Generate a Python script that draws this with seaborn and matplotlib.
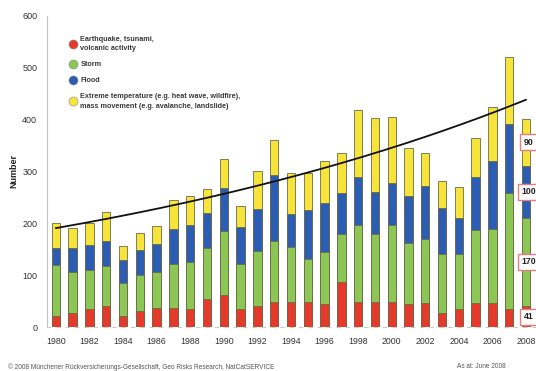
import numpy as np
import pandas as pd
import matplotlib
matplotlib.use("Agg")
import matplotlib.pyplot as plt
from matplotlib.lines import Line2D
import seaborn as sns

# Number of natural catastrophes per year, by type
years = list(range(1980, 2009))
quake = [22, 28, 36, 41, 22, 31, 38, 37, 35, 54, 62, 35, 41, 48, 48, 48, 45, 88, 48, 48,
         48, 44, 46, 28, 35, 46, 46, 35, 41]
storm = [98, 79, 75, 77, 63, 70, 69, 84, 90, 99, 123, 86, 105, 119, 107, 83, 100, 92, 149, 132,
         148, 118, 124, 113, 106, 142, 143, 224, 170]
flood = [33, 46, 47, 48, 45, 48, 53, 69, 71, 67, 83, 72, 81, 126, 64, 94, 94, 79, 92, 80,
         81, 90, 103, 88, 69, 101, 132, 132, 100]
extreme = [48, 38, 42, 56, 27, 33, 35, 55, 56, 47, 56, 41, 73, 68, 79, 72, 81, 76, 130, 143,
           128, 93, 62, 52, 61, 76, 104, 129, 90]

labels = ["Earthquake, tsunami,\nvolcanic activity", "Storm", "Flood",
          "Extreme temperature (e.g. heat wave, wildfire),\nmass movement (e.g. avalanche, landslide)"]
colors = ["#e5392c", "#8cc655", "#2c5db4", "#f6e43a"]
tick_years = list(range(1980, 2009, 2))

df = pd.DataFrame({"year": [str(y) for y in years],
                   "quake": quake, "storm": storm, "flood": flood, "extreme": extreme})
layers = ["quake", "storm", "flood", "extreme"]
cum = df[layers].cumsum(axis=1)
df["total"] = cum["extreme"]

sns.set_theme(style="white")
plt.rcParams["font.family"] = ["Liberation Sans", "DejaVu Sans"]

fig = plt.figure(figsize=(5.36, 3.71), dpi=100)
ax = fig.add_axes([47 / 536, 0.1178, 489 / 536, 0.840])

# stacked bars: draw cumulative heights from the top layer down
for layer, col in zip(layers[::-1], colors[::-1]):
    sns.barplot(data=df.assign(h=cum[layer]), x="year", y="h", color=col, width=0.5,
                errorbar=None, edgecolor="#6e6a48", linewidth=0.6, saturation=1, ax=ax)

# exponential trend of the yearly totals (least squares on log scale)
t = np.arange(len(years))
b, a = np.polyfit(t, np.log(df["total"].to_numpy()), 1)
tt = np.linspace(0, len(years) - 1, 200)
ax.plot(tt, np.exp(a + b * tt), color="#111111", lw=1.3, zorder=5)

# value boxes for the last year
last = len(years) - 1
vals = [quake[-1], storm[-1], flood[-1], extreme[-1]]
base = 0
for v in vals:
    ax.text(last + 0.15, base + v / 2, f"{v}", ha="center", va="center", fontsize=6.3,
            fontweight="bold", color="#222222", zorder=6, clip_on=False,
            bbox=dict(boxstyle="square,pad=0.4", fc="white", ec="#e08080", lw=1.0))
    base += v

ax.set_xlim(-0.52, 28.59)
ax.set_ylim(0, 600)
ax.set_yticks(range(0, 601, 100))
ax.set_xticks([years.index(y) for y in tick_years])
ax.set_xticklabels([str(y) for y in tick_years])
ax.tick_params(axis="y", labelsize=6.5, colors="#333333", length=3, width=0.6,
               color="#aaaaaa", pad=4)
ax.tick_params(axis="x", labelsize=6.3, colors="#333333", length=0, pad=7)
ax.set_xlabel("")
ax.set_ylabel("Number", fontsize=6.5, fontweight="bold", color="#222222", labelpad=3)

for s in ["top", "right"]:
    ax.spines[s].set_visible(False)
ax.spines["left"].set_color("#c4c4c4")
ax.spines["left"].set_linewidth(0.8)
ax.spines["bottom"].set_color("#c8c8c8")
ax.spines["bottom"].set_linewidth(0.8)
ax.spines["bottom"].set_linestyle((0, (3, 5.4)))

handles = [Line2D([], [], marker="o", ls="", markersize=6.5, markerfacecolor=c,
                  markeredgecolor="#8a8a8a", markeredgewidth=0.4) for c in colors]
leg = ax.legend(handles, labels, loc="upper left", bbox_to_anchor=(66 / 536, 1 - 33 / 371),
                bbox_transform=fig.transFigure, frameon=False,
                prop={"size": 5.2, "weight": "bold"},
                handletextpad=0.6, labelspacing=1.25, handlelength=1.0, borderaxespad=0)
for txt in leg.get_texts():
    txt.set_color("#3a3a3a")
    txt.set_linespacing(1.45)

fig.text(8 / 536, 1 - 367 / 371, "\u00a9 2008 M\u00fcnchener R\u00fcckversicherungs-Gesellschaft, "
         "Geo Risks Research, NatCatSERVICE", fontsize=4.7, color="#555555", va="center")
fig.text(506 / 536, 1 - 367 / 371, "As at: June 2008", fontsize=4.7, color="#555555",
         va="center", ha="right")

fig.savefig("out.png", dpi=100)
